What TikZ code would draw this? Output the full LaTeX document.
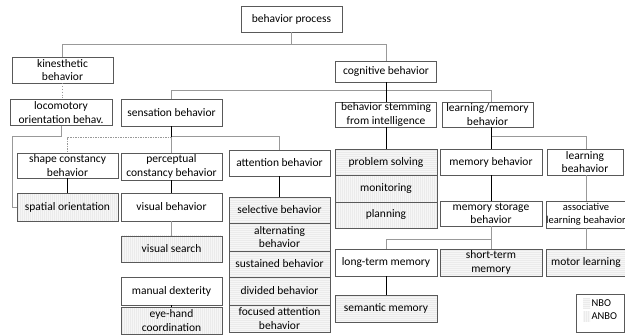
\documentclass[tikz,border=0pt]{standalone}
\usepackage{fontspec}
\setmainfont{Carlito}
\usetikzlibrary{patterns.meta}

\tikzset{
  box/.style={draw=black!65, fill=white, line width=0.7pt, minimum width=101pt,
    minimum height=26pt, inner sep=0.5pt, align=center,
    font=\fontsize{11.5}{13.5}\selectfont},
  nbo/.style={box, preaction={fill=gray!7},
    pattern={Lines[angle=0,distance=2pt,line width=0.8pt]}, pattern color=gray!16},
  anbo/.style={box, preaction={fill=gray!7},
    pattern={Lines[angle=90,distance=2pt,line width=0.8pt]}, pattern color=gray!16},
  blk/.style={draw=black, line width=1pt},
  gry/.style={draw=black!40, line width=0.8pt},
  dsh/.style={gry, dash pattern=on 1.5pt off 1pt},
  dot/.style={gry, dotted},
}

\begin{document}
\begin{tikzpicture}[x=1pt,y=-1pt]
    \useasboundingbox (0,0) rectangle (625,336);

    % top levels
    \node[box] (proc) at (291.5,19) {behavior process};
    \node[box] (kin) at (62.5,70) {kinesthetic\\behavior};
    \node[box, minimum height=21pt] (cog) at (386,71.5) {cognitive behavior};
    \node[box, minimum width=102pt] (loco) at (61,112.5) {locomotory\\orientation behav.};
    \node[box, minimum height=27pt] (sens) at (171.5,112.5) {sensation behavior};
    \node[box, minimum height=25pt] (stem) at (386,114.5) {behavior stemming\\from intelligence};
    \node[box, minimum width=91pt, minimum height=25pt] (learn) at (487.5,114.5) {learning/memory\\behavior};

    % sensation branch
    \node[box, minimum height=25pt] (shape) at (67.5,165.5) {shape constancy\\behavior};
    \node[box, minimum height=27pt] (perc) at (171.5,166.5) {perceptual\\constancy behavior};
    \node[box] (att) at (279.5,163) {attention behavior};
    \node[anbo, minimum height=28pt] (spat) at (67.5,207) {spatial orientation};
    \node[box, minimum height=28pt] (vis) at (171.5,207) {visual behavior};
    \node[anbo] (vsearch) at (171.5,249) {visual search};
    \node[box, minimum height=28pt] (manual) at (171.5,291) {manual dexterity};
    \node[anbo, minimum height=27pt] (eyehand) at (171.5,320.5) {eye-hand\\coordination};
    \node[nbo] (sel) at (279.5,210) {selective behavior};
    \node[nbo, minimum height=28pt] (alt) at (279.5,237) {alternating\\behavior};
    \node[nbo] (sus) at (279.5,264) {sustained behavior};
    \node[nbo, minimum height=28pt] (div) at (279.5,291) {divided behavior};
    \node[nbo, minimum height=27pt] (foc) at (279.5,318.5) {focused attention\\behavior};

    % cognitive branch
    \node[nbo, minimum width=102pt] (prob) at (386,162) {problem solving};
    \node[anbo, minimum width=102pt, minimum height=27pt] (mon) at (386,188.5) {monitoring};
    \node[anbo, minimum width=102pt] (plan) at (386,215) {planning};
    \node[box, minimum width=102pt] (mem) at (491,162) {memory behavior};
    \node[box, minimum width=76pt] (lb) at (585,162) {learning\\beahavior};
    \node[box, minimum width=102pt, minimum height=25pt] (store) at (491,213.5) {memory storage\\behavior};
    \node[box, minimum width=80pt, minimum height=27pt, inner sep=0pt,
      font=\fontsize{10.5}{13.5}\selectfont] (assoc) at (586,214.5) {associative\\learning beahavior};
    \node[box, minimum width=102pt, minimum height=27pt] (long) at (386,262.5) {long-term memory};
    \node[nbo, minimum width=102pt, minimum height=27pt] (short) at (491,262.5) {short-term\\memory};
    \node[nbo, minimum width=80pt, minimum height=27pt] (motor) at (586,262.5) {motor learning};
    \node[nbo, minimum width=102pt, minimum height=27pt] (sem) at (386,308.5) {semantic memory};

    % connectors
    \draw[gry] (proc.south) -- ++(0,13);
    \draw[gry] (kin.north) -- ++(0,-12) -| (cog.north);
    \draw[dot] (kin.south) -- (kin.south |- loco.north);
    \draw[gry] (loco.south) |- ++(-49,11) |- (spat.west);
    \draw[gry] (sens.north) -- ++(0,-8) -| (mem.north |- learn.north);
    \draw[blk] (cog.south) -- (stem.north);
    \draw[blk] (stem.south) -- (prob.north);
    \draw[gry] (mem.north) ++(0,-12) -| (lb.north -| assoc.north);
    \draw[blk] (mem.north |- learn.south) -- (mem.north);
    \draw[gry] (lb.south -| assoc.north) -- (assoc.north);
    \draw[gry] (assoc.south) -- (motor.north);
    \draw[blk] (mem.south) -- (store.north);
    \draw[gry] (store.south) -- (short.north);
    \draw[gry] (store.south) ++(0,13) -| (long.north);
    \draw[blk] (long.south) -- (sem.north);
    \draw[gry] (att.north) -- ++(0,-13) -| (perc.north);
    \draw[dsh] (sens.south) ++(0,11) -| (shape.north);
    \draw[blk] (sens.south) -- ++(0,11);
    \draw[blk] (shape.south) -- (spat.north);
    \draw[blk] (perc.south) -- (vis.north);
    \draw[gry] (vis.south) -- (vsearch.north);
    \draw[blk] (manual.south) -- (eyehand.north);
    \draw[blk] (att.south) -- (sel.north);

    % legend
    \node[box, minimum width=48pt, minimum height=38pt] (leg) at (600,313) {};
    \node[nbo, draw=none, minimum width=7pt, minimum height=11pt] (swn) at (586.5,303.5) {};
    \node[anbo, draw=none, minimum width=7pt, minimum height=11pt] (swa) at (586.5,316.5) {};
    \node[anchor=west, inner sep=1pt, font=\fontsize{10.5}{12}\selectfont] (ln) at (swn.east) {NBO};
    \node[anchor=west, inner sep=1pt, font=\fontsize{10.5}{12}\selectfont] (la) at (swa.east) {ANBO};
\end{tikzpicture}
\end{document}
